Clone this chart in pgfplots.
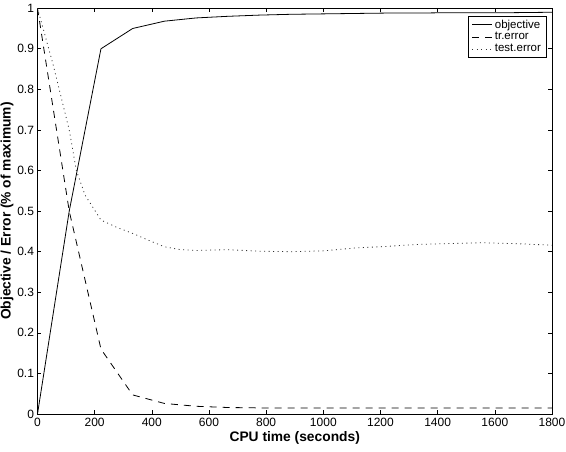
\documentclass[border=0pt]{standalone}
\usepackage{fontspec}
\setmainfont{Liberation Sans}
\usepackage{pgfplots}
\pgfplotsset{compat=1.18}

% objective and error curves sampled over CPU time
\pgfplotstableread{
t    obj
0    0.000
111  0.500
222  0.900
333  0.950
444  0.968
555  0.976
666  0.980
777  0.983
888  0.985
999  0.986
1110 0.987
1221 0.988
1332 0.988
1443 0.989
1554 0.989
1665 0.989
1800 0.990
}\objtab

\pgfplotstableread{
t    err
0    1.000
111  0.500
222  0.160
333  0.047
444  0.026
555  0.019
666  0.016
777  0.015
888  0.015
999  0.015
1110 0.015
1221 0.015
1332 0.015
1443 0.015
1554 0.015
1665 0.015
1800 0.015
}\trtab

\pgfplotstableread{
t    err
0    1.000
55   0.860
111  0.700
136  0.600
166  0.540
222  0.478
277  0.460
333  0.445
389  0.428
444  0.412
500  0.405
555  0.403
666  0.405
777  0.401
888  0.400
999  0.402
1110 0.409
1221 0.413
1332 0.418
1443 0.420
1554 0.422
1665 0.420
1800 0.416
}\testtab

\begin{document}
\begin{tikzpicture}
\path[use as bounding box] (-37.5pt,-38pt) rectangle (528.5pt,414pt);
\begin{axis}[
  at={(0,0)}, anchor=south west,
  scale only axis,
  width=514.5pt, height=405.8pt,
  xmin=0, xmax=1800, ymin=0, ymax=1,
  xtick={0,200,...,1800},
  ytick={0,0.1,...,1.0},
  tick align=inside,
  major tick length=4pt,
  tick style={black, line width=0.6pt},
  axis line style={line width=0.9pt},
  ticklabel style={font=\fontsize{12}{14}\selectfont},
  /pgf/number format/assume math mode=true,
  /pgf/number format/1000 sep={},
  xticklabel style={yshift=-1pt},
  xlabel={\bfseries CPU time (seconds)},
  ylabel={\bfseries Objective / Error (\% of maximum)},
  label style={font=\fontsize{13.8}{15}\selectfont},
  xlabel style={at={(axis description cs:0.5,0)}, anchor=north, yshift=-14pt},
  ylabel style={at={(axis description cs:0,0.5)}, anchor=south, yshift=20.5pt},
  legend cell align=left,
  legend style={
    at={(rel axis cs:0.9897,0.981)}, anchor=north east,
    draw=black, line width=0.6pt,
    font=\fontsize{11.5}{13}\selectfont,
    inner xsep=3.5pt, inner ysep=1.5pt,
    row sep=-1pt,
  },
  legend image code/.code={
    \draw[#1] (0pt,0pt) -- (20pt,0pt);
  },
]
\addplot[black, line width=0.8pt] table[x=t, y=obj] {\objtab};
\addlegendentry{objective}
\addplot[black, line width=0.8pt, dash pattern=on 7pt off 6pt] table[x=t, y=err] {\trtab};
\addlegendentry{tr.error}
\addplot[black!80, line width=0.8pt, dash pattern=on 1pt off 3.5pt] table[x=t, y=err] {\testtab};
\addlegendentry{test.error}
\end{axis}
\end{tikzpicture}
\end{document}
